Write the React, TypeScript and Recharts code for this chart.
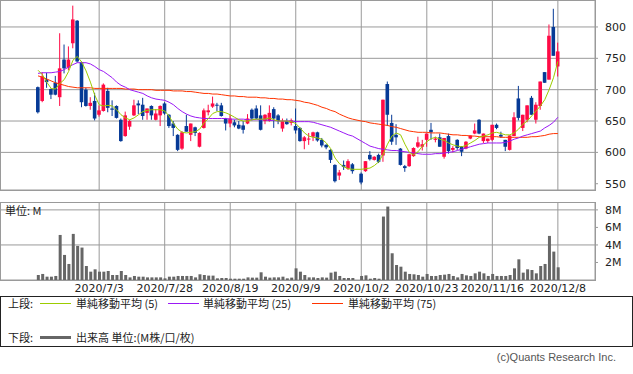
import React from 'react';
import { ComposedChart, BarChart, Bar, Line, XAxis, YAxis, CartesianGrid } from 'recharts';

// 日足: index 0 = 2020/6/15 ... 119 = 2020/12/8 (73 = 2020/10/1 売買停止)
const opens = [
  704, 682, 716, 701, 711, 688, 748, 735, 774, 810,
  744, 700, 674, 682, 660, 666, 698, 670, 674, 652,
  626, 641, 659, 678, 676, 663, 674, 652, 659, 678,
  660, 646, 628, 606, 642, 628, 640, 609, 639, 664,
  673, 676, 675, 654, 646, 648, 644, 643, 646, 668,
  670, 659, 650, 650, 669, 659, 638, 650, 647, 642,
  639, 618, 621, 625, 632, 620, 612, 604, 580, 563,
  580, 574, 581, null, 566, 570, 596, 588, 596, 595,
  709, 647, 628, 606, 578, 578, 594, 609, 609, 620,
  636, 620, 624, 593, 626, 604, 620, 609, 606, 622,
  630, 652, 618, 618, 620, 644, 628, 620, 604, 626,
  686, 639, 652, 687, 652, 674, 728, 716, 800, 737,
];
const highs = [
  705, 728, 727, 702, 722, 790, 772, 769, 834, 811,
  745, 703, 688, 695, 675, 710, 703, 683, 675, 654,
  665, 652, 684, 683, 687, 670, 675, 669, 675, 680,
  661, 650, 629, 634, 660, 646, 641, 632, 670, 676,
  689, 679, 679, 655, 660, 652, 650, 650, 661, 670,
  675, 675, 661, 675, 672, 661, 654, 654, 654, 670,
  640, 626, 631, 633, 633, 623, 613, 605, 581, 572,
  587, 589, 583, null, 568, 586, 602, 594, 598, 684,
  713, 660, 645, 607, 580, 598, 608, 625, 620, 630,
  647, 625, 630, 623, 630, 610, 621, 610, 618, 627,
  646, 653, 630, 622, 644, 646, 633, 620, 627, 664,
  706, 660, 675, 690, 680, 713, 728, 804, 829, 775,
];
const lows = [
  662, 680, 703, 685, 691, 674, 726, 731, 766, 743,
  672, 673, 668, 651, 657, 665, 664, 658, 654, 617,
  625, 636, 658, 661, 652, 652, 652, 651, 642, 660,
  639, 626, 602, 604, 633, 618, 626, 608, 638, 659,
  671, 666, 657, 635, 640, 640, 637, 630, 645, 651,
  653, 635, 645, 649, 639, 645, 633, 644, 643, 630,
  617, 605, 612, 618, 617, 608, 605, 583, 552, 556,
  572, 572, 566, null, 549, 569, 587, 587, 583, 585,
  642, 612, 612, 579, 569, 577, 593, 607, 603, 609,
  620, 616, 609, 590, 598, 600, 604, 594, 605, 621,
  629, 629, 615, 615, 618, 637, 623, 602, 603, 626,
  651, 634, 648, 660, 646, 668, 711, 716, 754, 721,
];
const closes = [
  664, 721, 712, 692, 692, 734, 734, 748, 812, 745,
  680, 674, 679, 654, 667, 708, 671, 668, 655, 618,
  659, 650, 675, 675, 658, 670, 659, 662, 674, 662,
  642, 639, 604, 632, 633, 646, 631, 631, 667, 667,
  678, 675, 658, 646, 654, 643, 638, 636, 654, 654,
  654, 636, 660, 663, 654, 650, 650, 645, 651, 635,
  618, 624, 622, 632, 619, 611, 608, 588, 554, 568,
  577, 586, 570, null, 552, 586, 589, 593, 585, 684,
  660, 617, 624, 580, 575, 597, 607, 616, 613, 630,
  632, 622, 609, 623, 602, 607, 607, 601, 617, 627,
  635, 630, 630, 622, 644, 639, 625, 609, 627, 656,
  655, 660, 675, 660, 676, 713, 711, 786, 754, 761,
];

// 単純移動平均 (5 / 25 / 75)
const ma5 = [
  731, 724, 712, 702, 701, 710, 716, 729, 747, 753,
  744, 730, 712, 691, 676, 674, 675, 674, 668, 660,
  655, 652, 655, 660, 665, 667, 668, 668, 668, 666,
  658, 646, 637, 632, 631, 632, 633, 637, 647, 654,
  662, 665, 665, 663, 660, 656, 652, 650, 650, 652,
  653, 653, 653, 655, 652, 650, 650, 650, 649, 646,
  639, 631, 626, 624, 623, 621, 615, 606, 591, 582,
  577, 574, 573, null, 573, 574, 575, 579, 585, 597,
  613, 626, 631, 628, 613, 600, 596, 601, 610, 617,
  622, 624, 621, 619, 615, 612, 610, 609, 611, 615,
  619, 624, 626, 628, 631, 632, 630, 628, 628, 631,
  637, 645, 650, 658, 666, 674, 684, 700, 719, 745,
];
const ma25 = [
  726, 727, 727, 727, 728, 729, 732, 736, 740, 743,
  743, 743, 741, 737, 732, 729, 724, 719, 712, 707,
  704, 700, 698, 696, 694, 690, 687, 685, 684, 683,
  680, 676, 670, 665, 661, 658, 656, 655, 654, 654,
  654, 654, 654, 654, 653, 653, 653, 653, 652, 652,
  652, 652, 652, 651, 651, 650, 650, 650, 650, 649,
  649, 649, 649, 648, 646, 644, 642, 640, 637, 634,
  631, 628, 626, null, 618, 614, 610, 608, 606, 605,
  604, 603, 603, 602, 601, 600, 599, 598, 597, 597,
  597, 598, 598, 599, 600, 601, 603, 605, 607, 609,
  611, 613, 614, 615, 615, 615, 615, 616, 618, 621,
  623, 626, 628, 630, 632, 634, 639, 643, 648, 656,
];
const ma75 = [
  722, 720, 717, 714, 711, 709, 707, 705, 704, 703,
  703, 703, 703, 702, 702, 702, 702, 702, 702, 702,
  701, 701, 701, 700, 700, 700, 700, 699, 699, 699,
  699, 698, 698, 698, 697, 697, 696, 695, 694, 694,
  693, 693, 692, 691, 690, 690, 689, 689, 688, 688,
  688, 687, 687, 686, 686, 685, 685, 684, 684, 683,
  682, 680, 679, 677, 675, 672, 670, 667, 665, 661,
  658, 655, 653, null, 650, 649, 647, 646, 645, 644,
  643, 641, 640, 638, 636, 634, 633, 632, 632, 632,
  631, 631, 631, 630, 629, 628, 628, 627, 627, 626,
  626, 625, 625, 625, 625, 625, 624, 624, 624, 624,
  624, 624, 624, 625, 625, 626, 627, 629, 630, 630,
];

// 出来高 (M)
const volumes = [
  0.57, 0.69, 0.38, 0.38, 0.46, 5.14, 2.86, 1.83, 5.26, 3.89,
  3.7, 1.6, 0.95, 1.22, 0.95, 0.95, 1.03, 0.57, 0.57, 1.03,
  0.57, 0.3, 0.46, 0.38, 0.38, 0.3, 0.3, 0.3, 0.3, 0.19,
  0.38, 0.38, 0.46, 0.46, 0.46, 0.46, 0.3, 0.65, 0.57, 0.5,
  0.5, 0.19, 0.23, 0.23, 0.15, 0.15, 0.15, 0.15, 0.3, 0.27,
  0.27, 0.88, 0.38, 0.27, 0.3, 0.3, 0.38, 0.19, 0.27, 1.33,
  0.95, 0.57, 0.3, 0.3, 0.23, 0.3, 0.27, 0.84, 0.95, 0.46,
  0.23, 0.23, 0.23, null, 0.46, 0.53, 0.15, 0.23, 0.15, 7.24,
  8.38, 3.05, 1.71, 1.52, 0.95, 0.69, 0.65, 0.57, 0.38, 0.69,
  0.46, 0.46, 0.57, 0.61, 0.69, 0.46, 0.3, 0.69, 0.53, 0.46,
  0.76, 0.95, 0.76, 0.46, 0.69, 0.46, 0.46, 0.46, 0.57, 1.33,
  2.36, 0.84, 1.22, 1.14, 0.76, 1.6, 1.83, 5.03, 3.24, 1.45,
];

const tickIdx = [14, 29, 44, 59, 74, 89, 104, 119];
const tickLabels = ['2020/7/3', '2020/7/28', '2020/8/19', '2020/9/9', '2020/10/2', '2020/10/23', '2020/11/16', '2020/12/8'];
const priceTicks = [550, 600, 650, 700, 750, 800];
const volTicks = [2, 4, 6, 8];

const RED = '#ff0a45';
const BLUE = '#063a96';
const GRID = '#9a9a9a';
const X_DOMAIN = [-8.7, 127.5];

const rows = opens.map((o, i) => ({
  i,
  range: o == null ? null : [lows[i], highs[i]],
  open: o,
  close: closes[i],
  ma5: ma5[i],
  ma25: ma25[i],
  ma75: ma75[i],
  vol: volumes[i],
}));

const labelOf = (v: number) => tickLabels[tickIdx.indexOf(v)] ?? '';

const Candle = (props: any) => {
  const { x, y, width, height, payload } = props;
  if (!payload || payload.open == null) return null;
  const [lo, hi] = payload.range;
  const k = hi === lo ? 0 : height / (hi - lo);
  const yOf = (v: number) => y + (hi - v) * k;
  const cx = x + width / 2;
  const up = payload.close >= payload.open;
  const color = up ? RED : BLUE;
  const top = yOf(Math.max(payload.open, payload.close));
  const bot = yOf(Math.min(payload.open, payload.close));
  return (
    <g>
      <rect x={cx - 0.5} y={y} width={1} height={Math.max(1, height)} fill={color} />
      <rect x={cx - 1.8} y={top} width={3.6} height={Math.max(1, bot - top)} fill={color} />
    </g>
  );
};

const tickFont = { fontSize: 11, fill: '#222', fontFamily: 'DejaVu Sans' };
const jp = { fontFamily: '"Noto Sans CJK JP", sans-serif', fontSize: 11, color: '#222' };

export default function App() {
  return (
    <div style={{ position: 'absolute', left: 0, top: 0, width: 633, height: 374, background: '#fff', overflow: 'hidden' }}>
      {/* 上段: 株価 */}
      <div style={{ position: 'absolute', left: 0, top: 0 }}>
        <ComposedChart width={633} height={191} data={rows} margin={{ top: 0, right: 0, bottom: 1, left: 0 }}>
          <CartesianGrid stroke={GRID} />
          <XAxis hide type="number" dataKey="i" domain={X_DOMAIN} ticks={tickIdx} allowDataOverflow />
          <YAxis
            orientation="right"
            width={38}
            domain={[540, 843]}
            ticks={priceTicks}
            allowDataOverflow
            axisLine={false}
            tickSize={3}
            tickMargin={7}
            tickLine={{ stroke: GRID }}
            tick={tickFont}
          />
          <Bar dataKey="range" barSize={4} shape={<Candle />} isAnimationActive={false} />
          <Line dataKey="ma75" stroke="#ff3300" strokeWidth={1} dot={false} connectNulls isAnimationActive={false} />
          <Line dataKey="ma25" stroke="#9b19f5" strokeWidth={1} dot={false} connectNulls isAnimationActive={false} />
          <Line dataKey="ma5" stroke="#9ccc00" strokeWidth={1} dot={false} connectNulls isAnimationActive={false} />
        </ComposedChart>
      </div>
      <div style={{ position: 'absolute', left: 0, top: 0, width: 596, height: 191, border: `1px solid ${GRID}`, boxSizing: 'border-box' }} />

      {/* 下段: 出来高 */}
      <div style={{ position: 'absolute', left: 0, top: 202 }}>
        <BarChart width={633} height={98} data={rows} margin={{ top: 0, right: 0, bottom: 0, left: 0 }}>
          <CartesianGrid stroke={GRID} />
          <XAxis
            type="number"
            dataKey="i"
            domain={X_DOMAIN}
            ticks={tickIdx}
            allowDataOverflow
            height={20}
            axisLine={false}
            tickLine={false}
            tickSize={2}
            tickMargin={2}
            tickFormatter={labelOf}
            tick={tickFont}
            interval={0}
          />
          <YAxis
            orientation="right"
            width={38}
            domain={[0, 8.9]}
            ticks={volTicks}
            allowDataOverflow
            axisLine={false}
            tickSize={3}
            tickMargin={7}
            tickLine={{ stroke: GRID }}
            tickFormatter={(v: number) => `${v}M`}
            tick={tickFont}
          />
          <Bar dataKey="vol" barSize={3} fill="#666" isAnimationActive={false} />
        </BarChart>
      </div>
      <div style={{ position: 'absolute', left: 0, top: 202, width: 596, height: 79, border: `1px solid ${GRID}`, boxSizing: 'border-box' }} />
      <div style={{ ...jp, position: 'absolute', left: 5, top: 203, lineHeight: '14px' }}>単位: M</div>

      {/* 凡例 */}
      <div style={{ position: 'absolute', left: 0, top: 296, width: 633, height: 51, border: '1px solid #222', boxSizing: 'border-box' }} />
      <div style={{ ...jp, position: 'absolute', left: 8, top: 296, lineHeight: '14px' }}>上段:</div>
      <div style={{ position: 'absolute', left: 40, top: 303, width: 31, height: 1, background: '#9ccc00' }} />
      <div style={{ ...jp, position: 'absolute', left: 76, top: 296, lineHeight: '14px' }}>単純移動平均 (5)</div>
      <div style={{ position: 'absolute', left: 168, top: 303, width: 31, height: 1, background: '#9b19f5' }} />
      <div style={{ ...jp, position: 'absolute', left: 203, top: 296, lineHeight: '14px' }}>単純移動平均 (25)</div>
      <div style={{ position: 'absolute', left: 312, top: 303, width: 31, height: 1, background: '#ff3300' }} />
      <div style={{ ...jp, position: 'absolute', left: 348, top: 296, lineHeight: '14px' }}>単純移動平均 (75)</div>
      <div style={{ ...jp, position: 'absolute', left: 8, top: 330, lineHeight: '14px' }}>下段:</div>
      <div style={{ position: 'absolute', left: 40, top: 336, width: 31, height: 3, background: '#666' }} />
      <div style={{ ...jp, position: 'absolute', left: 76, top: 330, lineHeight: '14px' }}>出来高 単位:(M株/口/枚)</div>

      <div style={{ position: 'absolute', right: 17, top: 350, fontFamily: '"Liberation Sans", sans-serif', fontSize: 11, color: '#555', lineHeight: '14px' }}>
        (c)Quants Research Inc.
      </div>
    </div>
  );
}
